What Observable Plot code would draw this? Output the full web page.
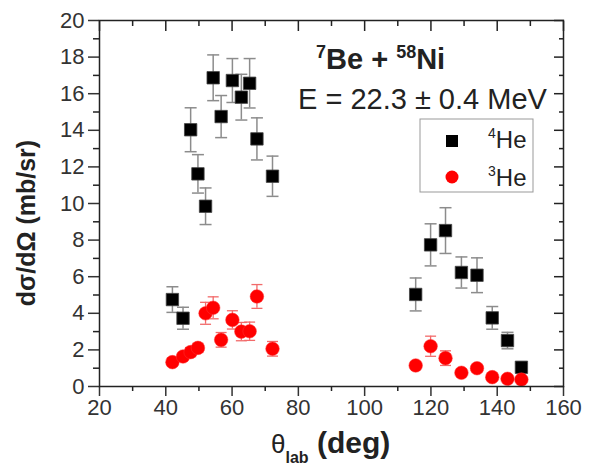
<!DOCTYPE html>
<html><head><meta charset="utf-8">
<script src="https://cdn.jsdelivr.net/npm/d3@7"></script>
<script src="https://cdn.jsdelivr.net/npm/@observablehq/plot@0.6"></script>
<style>body{margin:0;background:#fff;}</style>
</head><body><div id="chart"></div>
<script>
// Laboratory angles (deg)
const theta = [42.0, 45.2, 47.5, 49.7, 52.0, 54.3, 56.7, 60.1, 62.8, 65.3, 67.5, 72.2,
               115.4, 119.9, 124.4, 129.2, 133.9, 138.5, 143.1, 147.3];
// 4He cross sections (mb/sr) and errors
const he4 = [4.75, 3.73, 14.03, 11.62, 9.85, 16.87, 14.75, 16.72, 15.81, 16.57, 13.53, 11.49,
             5.03, 7.74, 8.52, 6.23, 6.08, 3.75, 2.51, 1.05];
const he4err = [0.7, 0.6, 1.2, 1.05, 1.0, 1.25, 1.15, 1.2, 1.25, 1.35, 1.15, 1.1,
                0.9, 1.15, 1.25, 0.85, 0.95, 0.62, 0.45, 0.2];
// 3He cross sections (mb/sr) and errors
const he3 = [1.33, 1.64, 1.88, 2.11, 4.0, 4.3, 2.55, 3.64, 3.0, 3.02, 4.92, 2.06,
             1.15, 2.2, 1.55, 0.75, 1.0, 0.51, 0.42, 0.38];
const he3err = [0.2, 0.2, 0.25, 0.25, 0.6, 0.6, 0.4, 0.5, 0.5, 0.5, 0.65, 0.4,
                0.2, 0.55, 0.4, 0.2, 0.2, 0.15, 0.15, 0.15];
// Axis ticks
const xMajor = [20, 40, 60, 80, 100, 120, 140, 160];
const xMinor = [30, 50, 70, 90, 110, 130, 150];
const yMajor = [0, 2, 4, 6, 8, 10, 12, 14, 16, 18, 20];
const yMinor = [1, 3, 5, 7, 9, 11, 13, 15, 17, 19];

const FONT = "'Liberation Sans', Arial, Helvetica, sans-serif";
const rows4 = theta.map((t, i) => ({t, v: he4[i], lo: he4[i] - he4err[i], hi: he4[i] + he4err[i]}));
const rows3 = theta.map((t, i) => ({t, v: he3[i], lo: he3[i] - he3err[i], hi: he3[i] + he3err[i]}));
const cap = {draw(ctx, size) { const w = Math.sqrt(size / Math.PI); ctx.moveTo(-w, 0); ctx.lineTo(w, 0); }};

const AX = "#222";
const chart = Plot.plot({
  width: 590, height: 466,
  marginLeft: 99, marginRight: 27, marginTop: 20, marginBottom: 80,
  style: {fontFamily: FONT, background: "#fff", color: AX, overflow: "visible"},
  x: {domain: [20, 160]},
  y: {domain: [0, 20]},
  marks: [
    // error bars 4He
    Plot.ruleX(rows4, {x: "t", y1: "lo", y2: "hi", stroke: "#8c8c8c", strokeWidth: 1.5}),
    Plot.dot(rows4, {x: "t", y: "hi", symbol: cap, r: 6, stroke: "#8c8c8c", strokeWidth: 1.5, fill: "none"}),
    Plot.dot(rows4, {x: "t", y: "lo", symbol: cap, r: 6, stroke: "#8c8c8c", strokeWidth: 1.5, fill: "none"}),
    // error bars 3He
    Plot.ruleX(rows3, {x: "t", y1: "lo", y2: "hi", stroke: "#f26a6a", strokeWidth: 1.3}),
    Plot.dot(rows3, {x: "t", y: "hi", symbol: cap, r: 5.5, stroke: "#f26a6a", strokeWidth: 1.3, fill: "none"}),
    Plot.dot(rows3, {x: "t", y: "lo", symbol: cap, r: 5.5, stroke: "#f26a6a", strokeWidth: 1.3, fill: "none"}),
    // markers
    Plot.dot(rows4, {x: "t", y: "v", symbol: "square", r: 7, fill: "#000", stroke: "#444", strokeWidth: 0.8}),
    Plot.dot(rows3, {x: "t", y: "v", symbol: "circle", r: 6.8, fill: "#f00", stroke: "#f33", strokeWidth: 0.5}),
    // axes
    Plot.axisX({ticks: xMajor, tickSize: 10, tickPadding: 3, fontSize: 22, label: null, strokeWidth: 1.5, color: "#333"}),
    Plot.axisX({ticks: xMinor, tickSize: 5, label: null, fill: "none", strokeWidth: 1.5, stroke: AX}),
    Plot.axisX({anchor: "top", ticks: xMajor, tickSize: -10, label: null, fill: "none", strokeWidth: 1.5, stroke: AX}),
    Plot.axisX({anchor: "top", ticks: xMinor, tickSize: -5, label: null, fill: "none", strokeWidth: 1.5, stroke: AX}),
    Plot.axisY({ticks: yMajor, tickSize: 11, tickPadding: 4, fontSize: 22, label: null, strokeWidth: 1.5, color: "#333"}),
    Plot.axisY({ticks: yMinor, tickSize: 6, label: null, fill: "none", strokeWidth: 1.5, stroke: AX}),
    Plot.axisY({anchor: "right", ticks: yMajor, tickSize: -10, label: null, fill: "none", strokeWidth: 1.5, stroke: AX}),
    Plot.axisY({anchor: "right", ticks: yMinor, tickSize: -5, label: null, fill: "none", strokeWidth: 1.5, stroke: AX}),
    Plot.frame({stroke: AX, strokeWidth: 1.5})
  ]
});
document.getElementById("chart").appendChild(chart);

// annotations
const svg = d3.select(chart);
const g = svg.append("g").attr("font-family", FONT).attr("fill", "#222").attr("text-anchor", "start");

const t1 = g.append("text").attr("x", 316).attr("y", 69).attr("font-weight", "bold").attr("font-size", 29);
t1.append("tspan").attr("font-size", 18).attr("dy", -11).text("7");
t1.append("tspan").attr("dy", 11).text("Be + ");
t1.append("tspan").attr("font-size", 18).attr("dy", -11).text("58");
t1.append("tspan").attr("dy", 11).text("Ni");

g.append("text").attr("x", 298).attr("y", 109).attr("font-size", 29).text("E = 22.3 ± 0.4 MeV");

// legend
g.append("rect").attr("x", 420).attr("y", 119).attr("width", 113).attr("height", 73)
  .attr("fill", "#fff").attr("stroke", "#999").attr("stroke-width", 1);
g.append("rect").attr("x", 446).attr("y", 135).attr("width", 12).attr("height", 12).attr("fill", "#000");
g.append("circle").attr("cx", 452).attr("cy", 177).attr("r", 6.5).attr("fill", "#f00");
const l1 = g.append("text").attr("x", 488).attr("y", 148).attr("font-size", 24);
l1.append("tspan").attr("font-size", 14).attr("dy", -10).text("4");
l1.append("tspan").attr("dy", 10).text("He");
const l2 = g.append("text").attr("x", 488).attr("y", 186).attr("font-size", 24);
l2.append("tspan").attr("font-size", 14).attr("dy", -10).text("3");
l2.append("tspan").attr("dy", 10).text("He");

// axis titles
g.append("text").attr("transform", "translate(35,223) rotate(-90)").attr("text-anchor", "middle")
  .attr("font-weight", "bold").attr("font-size", 25).text("dσ/dΩ (mb/sr)");
const xl = g.append("text").attr("x", 271).attr("y", 453).attr("font-size", 26);
xl.append("tspan").text("θ");
xl.append("tspan").attr("font-size", 16).attr("font-weight", "bold").attr("dy", 10).text("lab");
xl.append("tspan").attr("font-weight", "bold").attr("font-size", 30).attr("dy", -10).text(" (deg)");
</script></body></html>
